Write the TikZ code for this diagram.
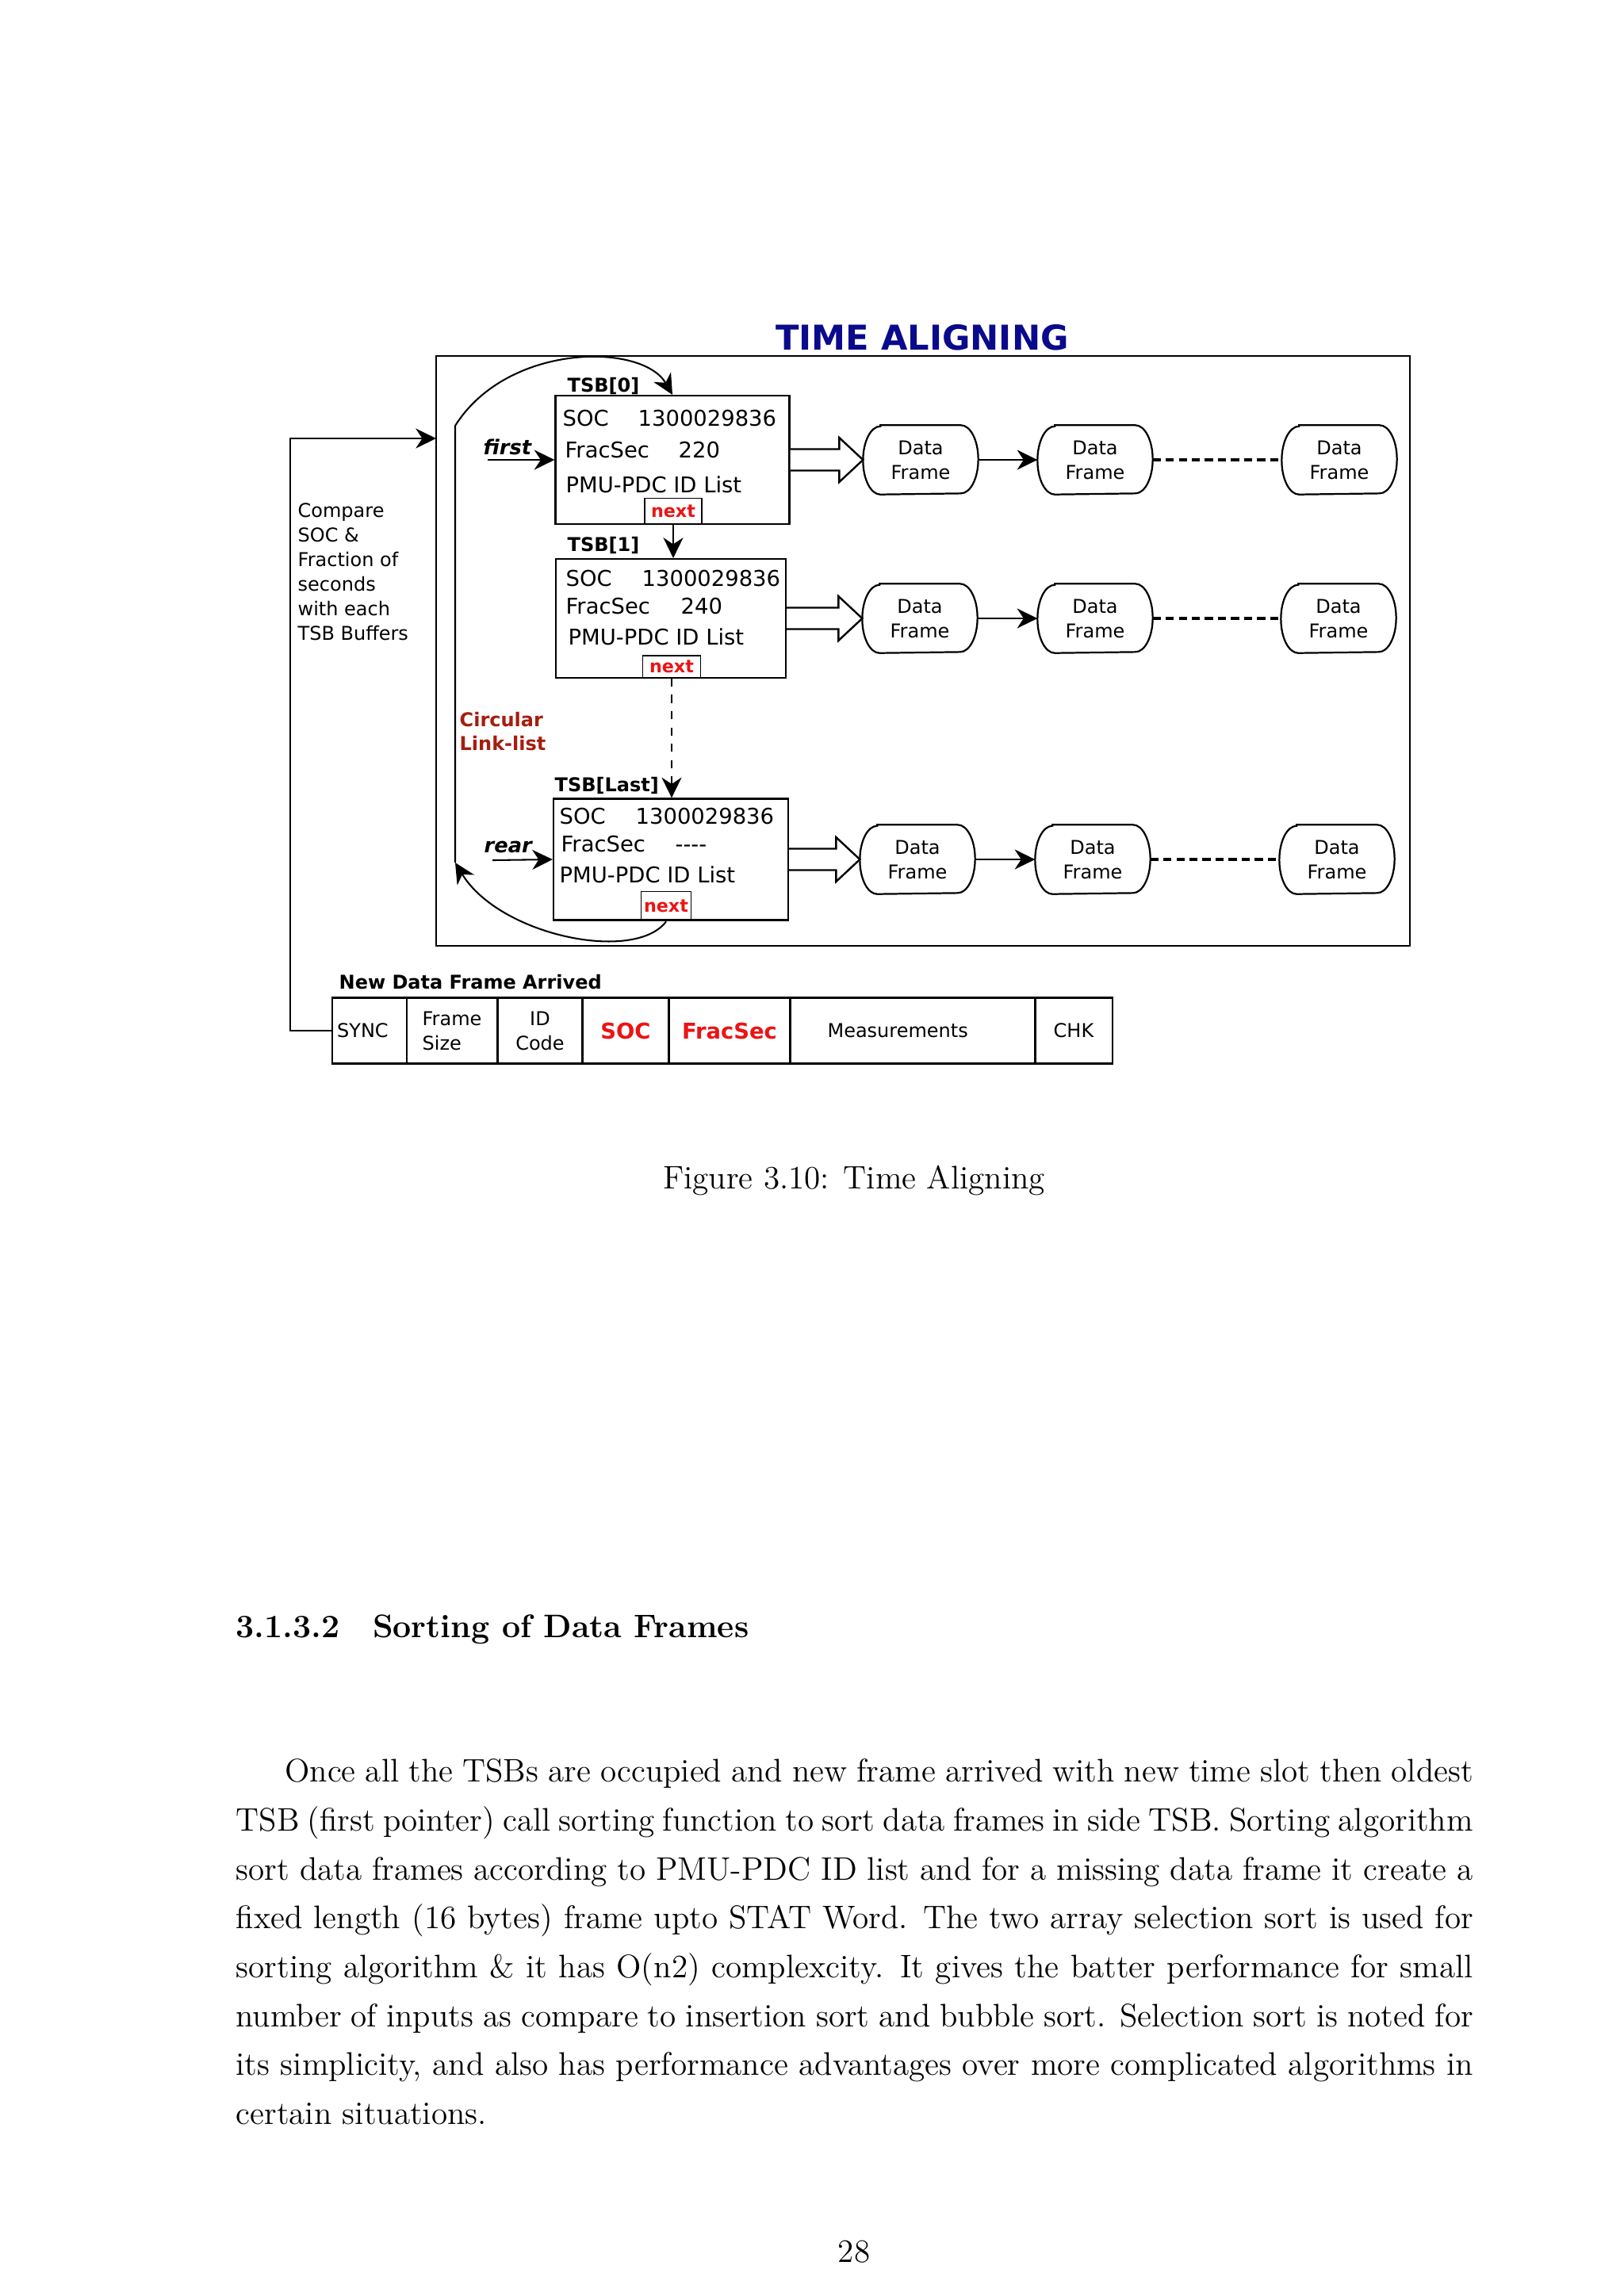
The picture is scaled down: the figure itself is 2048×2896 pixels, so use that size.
\documentclass[tikz,border=0pt]{standalone}
\usepackage{fontspec}
\newfontfamily\dejavu{DejaVu Sans}
\usetikzlibrary{arrows.meta,calc,positioning}
\definecolor{titleblue}{RGB}{10,10,140}
\definecolor{linkred}{RGB}{165,30,15}
\definecolor{nextred}{RGB}{235,20,20}

\begin{document}
\begin{tikzpicture}[x=0.010254cm,y=-0.010254cm,
  >={Stealth[length=7.5pt,width=7.3pt,inset=2.4pt]},
  lbl/.style={inner sep=0pt,anchor=base west,font=\dejavu\fontsize{8}{9.6}\selectfont},
  tag/.style={inner sep=0pt,anchor=base west,font=\dejavu\bfseries\fontsize{7}{8.75}\selectfont},
  tsbbox/.style={draw,line width=0.7pt,inner sep=0pt},
  nextbox/.style={draw,line width=0.5pt,inner sep=0pt,text=nextred,font=\dejavu\bfseries\fontsize{6.5}{7}\selectfont},
  dframe/.style={minimum width=42pt,minimum height=25.1pt,inner sep=0pt,align=center,font=\dejavu\fontsize{7}{9}\selectfont},
  cell/.style={draw,line width=0.7pt,minimum height=24.2pt,inner sep=0pt,align=center,font=\dejavu\fontsize{7}{9}\selectfont},
  redcell/.style={cell,text=nextred,font=\dejavu\bfseries\fontsize{8}{9}\selectfont},
  hollow/.style={line width=0.7pt,fill=white},
  link/.style={line width=0.6pt,->},
  dfdash/.style={line width=1pt,dash pattern=on 3pt off 1.8pt},
  page/.style={inner sep=0pt,font=\fontsize{12}{18}\selectfont}]

\useasboundingbox (0,0) rectangle (2048,2896);
\fill[white] (0,0) rectangle (2048,2896);

%% title and frame
\node (11630441) at (1163,441) [inner sep=0pt,anchor=base,text=titleblue,font=\dejavu\bfseries\fontsize{12.6}{15}\selectfont] {TIME ALIGNING};
\node (11640821) at (1164,821) [draw,line width=0.6pt,minimum width=358.1pt,minimum height=217pt] {};

%% time slot buffers
\node (08480580) at (848,580) [tsbbox,minimum width=86pt,minimum height=47.2pt] {};
\node (08460780) at (846,780) [tsbbox,minimum width=84.6pt,minimum height=43.7pt] {};
\node (08461084) at (846,1084) [tsbbox,minimum width=86.3pt,minimum height=44.6pt] {};
\node (08490645) at (849,645) [nextbox,minimum width=21pt,minimum height=9.6pt] {next};
\node (08470841) at (847,841) [nextbox,minimum width=21.3pt,minimum height=8.2pt] {next};
\node (08401143) at (840,1143) [nextbox,minimum width=18.4pt,minimum height=10.8pt] {next};

\node (07150494) at (715,494) [tag] {TSB[0]};
\node (07150695) at (715,695) [tag] {TSB[1]};
\node (06990998) at (699,998) [tag] {TSB[Last]};

\node (07090537) at (709,537) [lbl] {SOC};
\node (08040537) at (804,537) [lbl] {1300029836};
\node (07120577) at (712,577) [lbl] {FracSec};
\node (08550577) at (855,577) [lbl] {220};
\node (07130621) at (713,621) [lbl] {PMU-PDC ID List};
\node (07130739) at (713,739) [lbl] {SOC};
\node (08090739) at (809,739) [lbl] {1300029836};
\node (07130774) at (713,774) [lbl] {FracSec};
\node (08580774) at (858,774) [lbl] {240};
\node (07160813) at (716,813) [lbl] {PMU-PDC ID List};
\node (07051039) at (705,1039) [lbl] {SOC};
\node (08011039) at (801,1039) [lbl] {1300029836};
\node (07071074) at (707,1074) [lbl] {FracSec};
\node (08511074) at (851,1074) [lbl] {{-}{-}{-}{-}};
\node (07051113) at (705,1113) [lbl] {PMU-PDC ID List};

%% pointers
\node (06090573) at (609,573) [tag,font=\dejavu\bfseries\itshape\fontsize{7.5}{9}\selectfont] {first};
\node (06101075) at (610,1075) [tag,font=\dejavu\bfseries\itshape\fontsize{7.5}{9}\selectfont] {rear};
\coordinate (06150580) at (615,580);
\coordinate (06211085) at (621,1085);
\draw[link] (06150580) -- (08480580.west);
\draw[link] (06211085) -- (08461084.west);

\draw[link] (08490645.south) -- (08490645.south |- 08460780.north);
\draw[link,dashed] (08470841.south) -- (08470841.south |- 08461084.north);

%% circular link
\coordinate (05741088) at (574,1088);
\coordinate (05740537) at (574,537);
\draw[link] (08401143.south) .. controls (800,1215) and (630,1180) .. (05741088);
\draw[link] (05741088) -- (05740537) .. controls (640,432) and (810,432) .. (08480580.north);
\node (05790946) at (579,946) [tag,text=linkred,align=left] {Circular\\Link-list};

%% data frames
\node (11610580) at (1161,580) [dframe] {Data\\Frame};
\node (13810580) at (1381,580) [dframe] {Data\\Frame};
\node (16890580) at (1689,580) [dframe] {Data\\Frame};
\node (11600780) at (1160,780) [dframe] {Data\\Frame};
\node (13810780) at (1381,780) [dframe] {Data\\Frame};
\node (16880780) at (1688,780) [dframe] {Data\\Frame};
\node (11571084) at (1157,1084) [dframe] {Data\\Frame};
\node (13781084) at (1378,1084) [dframe] {Data\\Frame};
\node (16861084) at (1686,1084) [dframe] {Data\\Frame};
\foreach \n in {11610580,13810580,16890580,11600780,13810780,16880780,11571084,13781084,16861084}
  \draw[line width=0.65pt] ([xshift=6.4pt]\n.north west) -- ([xshift=-6.4pt]\n.north east)
    arc[start angle=90,end angle=-90,x radius=6.4pt,y radius=12.55pt] -- ([xshift=6.4pt]\n.south west)
    arc[start angle=270,end angle=90,x radius=6.4pt,y radius=12.55pt] -- cycle;
\foreach \a/\b/\c in {11610580/13810580/16890580,11600780/13810780/16880780,11571084/13781084/16861084} {
  \draw[link] (\a.east) -- (\b.west);
  \draw[dfdash] (\b.east) -- (\c.west);
}
\foreach \a/\b in {08480580/11610580,08460780/11600780,08461084/11571084}
  \draw[hollow] ($(\a.east)+(0,-13.5)$) -- ($(\b.west)+(-30,-13.5)$) -- ($(\b.west)+(-30,-28)$) -- (\b.west)
    -- ($(\b.west)+(-30,28)$) -- ($(\b.west)+(-30,13.5)$) -- ($(\a.east)+(0,13.5)$);

%% new data frame
\node (04271247) at (427,1247) [tag] {New Data Frame Arrived};
\node (04661300) at (466,1300) [cell,minimum width=27.4pt] {SYNC\hspace*{5pt}};
\node (05701300) at (570,1300) [cell,minimum width=33.2pt,align=left] {Frame\\Size};
\node (06811300) at (681,1300) [cell,minimum width=31.2pt] {ID\\Code};
\node (07891300) at (789,1300) [redcell,minimum width=31.9pt] {SOC};
\node (09201300) at (920,1300) [redcell,minimum width=44.5pt] {FracSec};
\node (11511300) at (1151,1300) [cell,minimum width=90.1pt] {Measurements\hspace*{11pt}};
\node (13541300) at (1354,1300) [cell,minimum width=28.6pt] {CHK};

%% compare loop
\coordinate (05500553) at (550,553);
\draw[link] (04661300.west) -- ++(-52,0) |- (05500553);
\node (03750807) at (375,807) [tag,font=\dejavu\fontsize{7}{9.04}\selectfont,align=left] {Compare\\SOC \&\\Fraction of\\seconds\\with each\\TSB Buffers};

%% page text
\node (10771499) at (1077,1499) [page,anchor=base] {Figure 3.10: Time Aligning};
\node (02972065) at (297,2065) [page,anchor=base west,font=\fontsize{12}{18}\selectfont\bfseries] {3.1.3.2\quad Sorting of Data Frames};
\node (02972204) at (297,2203.8) [page,anchor=north west,text width=455.2pt,align=justify] {\noindent\strut\hspace*{18pt}Once all the TSBs are occupied and new frame arrived with new time slot then oldest\linebreak
TSB (first pointer) call sorting function to sort data frames in side TSB. Sorting algorithm\linebreak
sort data frames according to PMU-PDC ID list and for a missing data frame it create a\linebreak
fixed length (16 bytes) frame upto STAT Word. The two array selection sort is used for\linebreak
sorting algorithm \& it has O(n2) complexcity. It gives the batter performance for small\linebreak
number of inputs as compare to insertion sort and bubble sort. Selection sort is noted for\linebreak
its simplicity, and also has performance advantages over more complicated algorithms in\linebreak
certain situations.};
\node (10772853) at (1077,2853) [page,anchor=base] {28};

\end{tikzpicture}
\end{document}
